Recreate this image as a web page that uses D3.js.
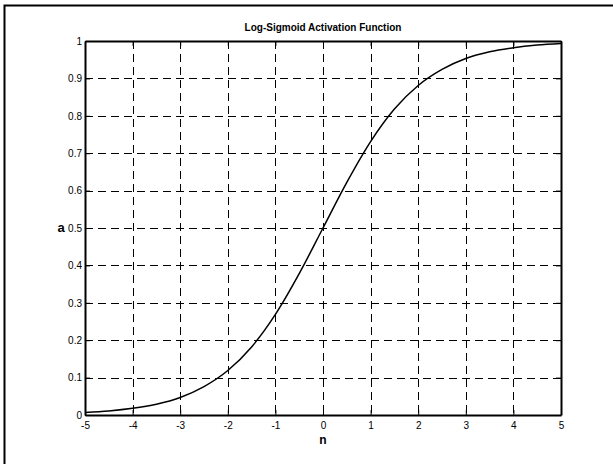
<!DOCTYPE html>
<html>
<head>
<meta charset="utf-8">
<script src="https://cdn.jsdelivr.net/npm/d3@7"></script>
<style>
  html, body { margin: 0; padding: 0; background: #fff; }
  svg { display: block; font-family: "Liberation Sans", Arial, sans-serif; }
</style>
</head>
<body>
<svg id="chart" width="613" height="464"></svg>
<script>
// Values
const nValues = [-5, -4.5, -4, -3.5, -3, -2.5, -2, -1.5, -1, -0.5, 0, 0.5, 1, 1.5, 2, 2.5, 3, 3.5, 4, 4.5, 5];
const aValues = [0.007, 0.011, 0.018, 0.029, 0.047, 0.076, 0.119, 0.182, 0.269, 0.378, 0.5, 0.622, 0.731, 0.818, 0.881, 0.924, 0.953, 0.971, 0.982, 0.989, 0.993];
const xTicks = [-5, -4, -3, -2, -1, 0, 1, 2, 3, 4, 5];
const yTicks = [0, 0.1, 0.2, 0.3, 0.4, 0.5, 0.6, 0.7, 0.8, 0.9, 1];

const titleText = "Log-Sigmoid Activation Function";
const xLabel = "n";
const yLabel = "a";

// Layout
const svg = d3.select("#chart");
const plot = { left: 85, top: 41, right: 561, bottom: 415 };

const x = d3.scaleLinear().domain([-5, 5]).range([plot.left, plot.right]);
const y = d3.scaleLinear().domain([0, 1]).range([plot.bottom, plot.top]);

// Outer frame (right and bottom edges run off the picture)
svg.append("rect")
    .attr("x", 4.5).attr("y", 5.5)
    .attr("width", 700).attr("height", 700)
    .attr("fill", "none")
    .attr("stroke", "#000")
    .attr("stroke-width", 2);

// Grid lines
const grid = svg.append("g").attr("stroke", "#000").attr("stroke-width", 1)
    .attr("stroke-dasharray", "8,5");
grid.selectAll("line.gx")
    .data(xTicks.slice(1, -1))
    .join("line")
        .attr("x1", d => Math.round(x(d)) + 0.5).attr("x2", d => Math.round(x(d)) + 0.5)
        .attr("y1", plot.top).attr("y2", plot.bottom);
grid.selectAll("line.gy")
    .data(yTicks.slice(1, -1))
    .join("line")
        .attr("y1", d => Math.round(y(d)) + 0.5).attr("y2", d => Math.round(y(d)) + 0.5)
        .attr("x1", plot.left).attr("x2", plot.right);

// Axes with inward ticks (plain hyphen for negatives, like the reference)
const plain = d => String(d);
const xAxisBottom = d3.axisBottom(x).tickValues(xTicks).tickSizeInner(-5).tickSizeOuter(0).tickPadding(7)
    .tickFormat(plain);
const xAxisTop = d3.axisTop(x).tickValues(xTicks).tickSizeInner(-5).tickSizeOuter(0).tickFormat("");
const yAxisLeft = d3.axisLeft(y).tickValues(yTicks).tickSizeInner(-5).tickSizeOuter(0).tickPadding(3)
    .tickFormat(plain);
const yAxisRight = d3.axisRight(y).tickValues(yTicks).tickSizeInner(-5).tickSizeOuter(0).tickFormat("");

function styleAxis(g) {
    g.select(".domain").attr("stroke", "#000").attr("stroke-width", 2);
    g.selectAll(".tick line").attr("stroke", "#000").attr("stroke-width", 1);
    g.selectAll(".tick text").attr("fill", "#000").attr("font-size", 10)
        .attr("font-family", "Liberation Sans, Arial, sans-serif");
}

svg.append("g").attr("transform", `translate(0,${plot.bottom})`).call(xAxisBottom).call(styleAxis);
svg.append("g").attr("transform", `translate(0,${plot.top})`).call(xAxisTop).call(styleAxis);
svg.append("g").attr("transform", `translate(${plot.left},0)`).call(yAxisLeft).call(styleAxis);
svg.append("g").attr("transform", `translate(${plot.right},0)`).call(yAxisRight).call(styleAxis);

// The curve
const points = nValues.map((n, i) => ({ n: n, a: aValues[i] }));
svg.append("path")
    .datum(points)
    .attr("fill", "none")
    .attr("stroke", "#000")
    .attr("stroke-width", 1.5)
    .attr("d", d3.line().x(d => x(d.n)).y(d => y(d.a)).curve(d3.curveMonotoneX));

// Title and labels
svg.append("text")
    .attr("x", (plot.left + plot.right) / 2).attr("y", 31)
    .attr("text-anchor", "middle")
    .attr("font-size", 10).attr("font-weight", "bold")
    .text(titleText);

svg.append("text")
    .attr("x", (plot.left + plot.right) / 2).attr("y", 444)
    .attr("text-anchor", "middle")
    .attr("font-size", 12).attr("font-weight", "bold")
    .text(xLabel);

svg.append("text")
    .attr("x", 61).attr("y", y(0.5) + 4)
    .attr("text-anchor", "middle")
    .attr("font-size", 13).attr("font-weight", "bold")
    .text(yLabel);
</script>
</body>
</html>
